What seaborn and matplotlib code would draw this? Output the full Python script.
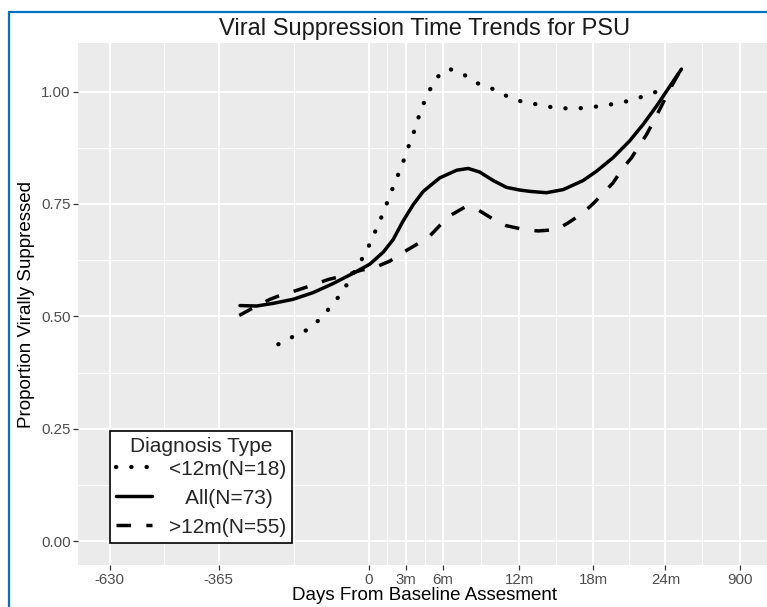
import numpy as np
import pandas as pd
import matplotlib
matplotlib.use("Agg")
import matplotlib.pyplot as plt
import seaborn as sns
from matplotlib.lines import Line2D
from matplotlib.ticker import FixedLocator


# values (days from baseline, proportion suppressed)
lt12_days = [-220, -184, -150, -121, -97, -74, -54, -19, -2, 12, 26, 39, 51, 64, 77,
             89, 100, 112, 122, 134, 148, 167, 194, 230, 262, 300, 335, 370, 411,
             451, 492, 531, 571, 612, 650, 688, 727]
lt12_prop = [0.438, 0.455, 0.470, 0.492, 0.517, 0.543, 0.570, 0.624, 0.653, 0.682,
             0.711, 0.740, 0.770, 0.799, 0.829, 0.858, 0.888, 0.917, 0.947, 0.976,
             1.004, 1.033, 1.051, 1.038, 1.019, 1.006, 0.990, 0.978, 0.971, 0.964,
             0.962, 0.964, 0.969, 0.975, 0.984, 0.997, 1.006]

all_days = [-313, -273, -232, -184, -135, -87, -38, 2, 35, 59, 83, 108, 132, 172,
            213, 241, 269, 302, 334, 366, 391, 431, 472, 520, 553, 593, 633, 666,
            698, 731, 759]
all_prop = [0.524, 0.523, 0.529, 0.538, 0.553, 0.573, 0.596, 0.616, 0.643, 0.671,
            0.712, 0.749, 0.778, 0.808, 0.825, 0.829, 0.821, 0.802, 0.787, 0.781,
            0.778, 0.775, 0.782, 0.802, 0.823, 0.853, 0.890, 0.927, 0.967, 1.012,
            1.050]

gt12_days = [-315, -285, -240, -220, -175, -135, -99, -62, -18, 10, 51, 79, 116,
             144, 172, 197, 233, 265, 302, 332, 377, 411, 456, 484, 520, 545, 573,
             593, 617, 638, 658, 674, 694, 706, 735, 757]
gt12_prop = [0.502, 0.517, 0.538, 0.545, 0.558, 0.570, 0.582, 0.590, 0.603, 0.607,
             0.623, 0.640, 0.660, 0.675, 0.702, 0.724, 0.743, 0.737, 0.716, 0.702,
             0.693, 0.690, 0.693, 0.708, 0.730, 0.751, 0.778, 0.797, 0.830, 0.853,
             0.882, 0.904, 0.938, 0.960, 1.012, 1.048]

group_labels = ["<12m(N=18)", "All(N=73)", ">12m(N=55)"]

x_ticks = [-630, -365, 0, 90, 180, 365, 545, 720, 900]
x_tick_labels = ["-630", "-365", "0", "3m", "6m", "12m", "18m", "24m", "900"]
y_ticks = [0.0, 0.25, 0.50, 0.75, 1.00]
y_tick_labels = ["0.00", "0.25", "0.50", "0.75", "1.00"]


def main():
    series = [
        pd.DataFrame({"day": lt12_days, "prop": lt12_prop, "group": group_labels[0]}),
        pd.DataFrame({"day": all_days, "prop": all_prop, "group": group_labels[1]}),
        pd.DataFrame({"day": gt12_days, "prop": gt12_prop, "group": group_labels[2]}),
    ]

    sns.set_theme(style="darkgrid", rc={
        "axes.facecolor": "#EBEBEB",
        "grid.color": "white",
        "grid.linewidth": 1.4,
    })
    plt.rcParams["font.family"] = ["Liberation Sans", "DejaVu Sans"]

    fig = plt.figure(figsize=(7.67, 6.07), dpi=100)
    fig.patch.set_facecolor("white")
    ax = fig.add_axes([78 / 767, 42 / 607, 693 / 767, 522 / 607])

    styles = [
        dict(linestyle=(0, (0.05, 3.5)), dash_capstyle="round", linewidth=3.1),
        dict(linestyle="-", linewidth=2.5),
        dict(linestyle=(0, (4.2, 4.4)), dash_capstyle="butt", linewidth=2.5),
    ]
    for df, st, lab in zip(series, styles, group_labels):
        sns.lineplot(data=df, x="day", y="prop", ax=ax, color="black",
                     label=lab, estimator=None, **st)

    ax.set_xlim(-706.5, 976.5)
    ax.set_ylim(-0.053, 1.108)

    ax.xaxis.set_major_locator(FixedLocator(x_ticks))
    ax.set_xticklabels(x_tick_labels)
    ax.yaxis.set_major_locator(FixedLocator(y_ticks))
    ax.set_yticklabels(y_tick_labels)

    x_minor = [(a + b) / 2 for a, b in zip(x_ticks[:-1], x_ticks[1:])]
    y_minor = [(a + b) / 2 for a, b in zip(y_ticks[:-1], y_ticks[1:])]
    ax.xaxis.set_minor_locator(FixedLocator(x_minor))
    ax.yaxis.set_minor_locator(FixedLocator(y_minor))
    ax.grid(which="major", color="white", linewidth=1.4)
    ax.grid(which="minor", color="white", linewidth=0.7)
    ax.set_axisbelow(True)

    ax.tick_params(which="major", length=3.4, width=0.9, color="#333333",
                   labelsize=10.8, labelcolor="#4D4D4D", pad=2.0,
                   bottom=True, left=True)
    ax.tick_params(which="minor", length=0)
    for s in ax.spines.values():
        s.set_visible(False)

    ax.set_xlabel("Days From Baseline Assesment", fontsize=13.5, color="black",
                  labelpad=0)
    ax.set_ylabel("Proportion Virally Suppressed", fontsize=13.5, color="black",
                  labelpad=4)
    ax.set_title("Viral Suppression Time Trends for PSU", fontsize=17,
                 color="#1A1A1A", pad=6)

    handles, labels = ax.get_legend_handles_labels()
    labels = ["<12m(N=18)", "   All(N=73)", ">12m(N=55)"]
    leg = ax.legend(handles, labels, title="Diagnosis Type", loc="lower left",
                    bbox_to_anchor=(0.046, 0.043), fontsize=15, title_fontsize=15,
                    frameon=True, fancybox=False, framealpha=1, edgecolor="black",
                    facecolor="white", handlelength=1.75, handletextpad=0.8,
                    labelspacing=0.48, borderpad=0.28, borderaxespad=0)
    leg._legend_box.sep = 0.2 * 15  # tighter gap under the title
    leg.get_frame().set_linewidth(1.2)

    # blue slide border around the picture
    fig.add_artist(Line2D([9 / 767, 1.0], [1 - 12 / 607, 1 - 12 / 607],
                          transform=fig.transFigure, color="#0070C0", lw=1.6))
    fig.add_artist(Line2D([9 / 767, 9 / 767], [0.0, 1 - 12 / 607],
                          transform=fig.transFigure, color="#0070C0", lw=1.6))

    fig.savefig("out.png", dpi=100)


if __name__ == "__main__":
    main()
